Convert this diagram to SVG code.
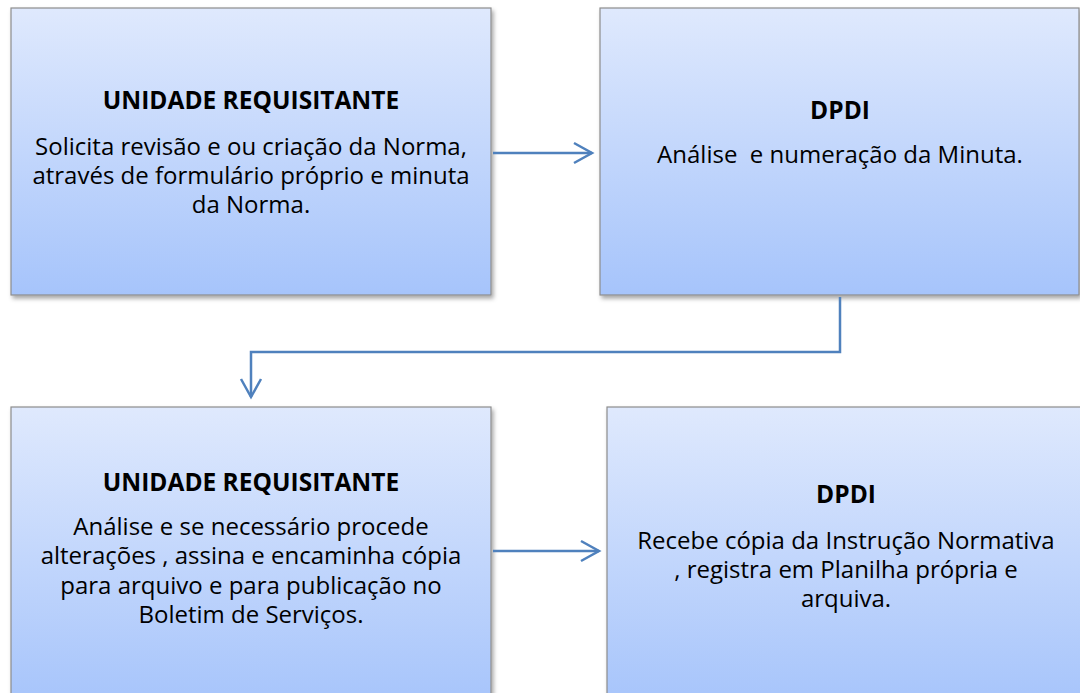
<svg xmlns="http://www.w3.org/2000/svg" width="1080" height="693" viewBox="0 0 1080 693">
<style>
.box{fill:url(#g);stroke:#8d8d8d;stroke-width:1.2;filter:url(#sh)}
.t{font-family:"Open Sans",sans-serif;font-size:24px;fill:#000;text-anchor:middle}
.b{font-weight:bold;font-size:24.5px}
.c{fill:none;stroke:#4f81bd;stroke-width:2.5}
</style>
<defs>
<linearGradient id="g" x1="0" y1="0" x2="0" y2="1">
<stop offset="0" stop-color="#dfe9fd"/>
<stop offset="1" stop-color="#a6c4fb"/>
</linearGradient>
<filter id="sh" x="-5%" y="-5%" width="115%" height="115%">
<feDropShadow dx="2" dy="3" stdDeviation="2" flood-color="#000" flood-opacity="0.35"/>
</filter>
<marker id="ah" markerUnits="userSpaceOnUse" markerWidth="30" markerHeight="30" refX="20" refY="12" orient="auto">
<polyline points="2,2 20,12 2,22" fill="none" stroke="#4f81bd" stroke-width="2.5"/>
</marker>
</defs>
<rect width="1080" height="693" fill="#fff"/>
<g id="n1">
<rect class="box" x="11" y="8" width="480" height="287"/>
<text class="t b" x="251" y="109">UNIDADE REQUISITANTE</text>
<text class="t" x="251" y="155">Solicita revisão e ou criação da Norma,</text>
<text class="t" x="251" y="184">através de formulário próprio e minuta</text>
<text class="t" x="251" y="213">da Norma.</text>
</g>
<g id="n2">
<rect class="box" x="600" y="8" width="479" height="287"/>
<text class="t b" x="840" y="119">DPDI</text>
<text class="t" x="840" y="163" xml:space="preserve">Análise  e numeração da Minuta.</text>
</g>
<g id="n3">
<rect class="box" x="11" y="407" width="480" height="300"/>
<text class="t b" x="251" y="491">UNIDADE REQUISITANTE</text>
<text class="t" x="251" y="535">Análise e se necessário procede</text>
<text class="t" x="251" y="564">alterações , assina e encaminha cópia</text>
<text class="t" x="251" y="594">para arquivo e para publicação no</text>
<text class="t" x="251" y="623">Boletim de Serviços.</text>
</g>
<g id="n4">
<rect class="box" x="607" y="407" width="480" height="300"/>
<text class="t b" x="846" y="503">DPDI</text>
<text class="t" x="846" y="549">Recebe cópia da Instrução Normativa</text>
<text class="t" x="846" y="578">, registra em Planilha própria e</text>
<text class="t" x="846" y="607">arquiva.</text>
</g>
<g id="connectors">
<path class="c" d="M493,153 H592" marker-end="url(#ah)"/>
<path class="c" d="M840,297 V352 H251 V397" marker-end="url(#ah)"/>
<path class="c" d="M493,551 H599" marker-end="url(#ah)"/>
</g>
</svg>
